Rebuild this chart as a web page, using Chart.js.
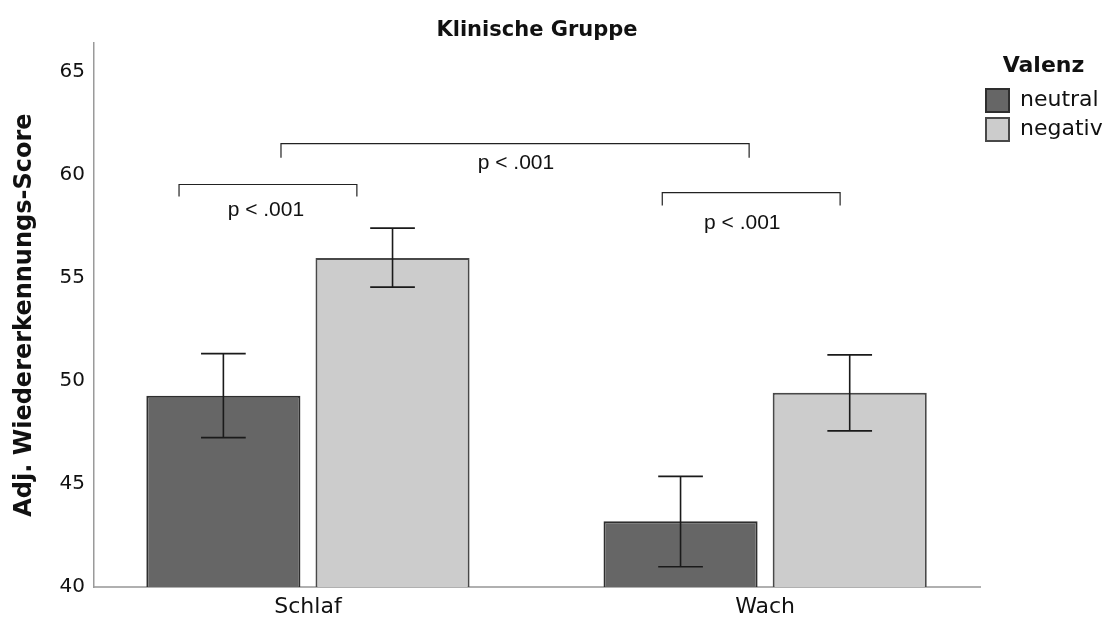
<!DOCTYPE html>
<html>
<head>
<meta charset="utf-8">
<script src="https://cdn.jsdelivr.net/npm/chart.js@4/dist/chart.umd.min.js"></script>
<style>
  html, body { margin: 0; padding: 0; background: #ffffff; }
  #wrap { width: 1107px; height: 625px; }
</style>
</head>
<body>
<div id="wrap"><canvas id="c" width="1107" height="625"></canvas></div>
<script>
// Groups on the x axis
const categories = ['Schlaf', 'Wach'];

// Mean adjusted recognition score per group, with error-bar limits
const neutralMeans = [49.28, 43.19];
const neutralLow   = [47.25, 40.98];
const neutralHigh  = [51.33, 45.37];

const negativMeans = [55.97, 49.43];
const negativLow   = [54.56, 47.58];
const negativHigh  = [57.42, 51.27];

const yTicks = [40, 45, 50, 55, 60, 65];

// Significance brackets, in axis units: x from/to, y of the bar, y of the leg ends, label position
const bracketFrom  = [-0.282, -0.059, 0.775];
const bracketTo    = [ 0.107,  0.965, 1.164];
const bracketTop   = [ 59.54,  61.52, 59.15];
const bracketLegs  = [ 58.96,  60.84, 58.52];
const bracketTextX = [-0.092,  0.455, 0.950];
const bracketTextY = [ 58.30,  60.55, 57.68];
const bracketText  = ['p < .001', 'p < .001', 'p < .001'];

const FONT = "'DejaVu Sans', sans-serif";

const errorLimits = [
  { low: neutralLow, high: neutralHigh },
  { low: negativLow, high: negativHigh }
];

const errorBars = {
  id: 'errorBars',
  afterDatasetsDraw(chart) {
    const { ctx, scales: { y } } = chart;
    ctx.save();
    ctx.strokeStyle = '#1a1a1a';
    ctx.lineWidth = 1.6;
    errorLimits.forEach((lim, di) => {
      const meta = chart.getDatasetMeta(di);
      meta.data.forEach((bar, i) => {
        const x = bar.x;
        const half = bar.width * 0.145;
        const yHi = y.getPixelForValue(lim.high[i]);
        const yLo = y.getPixelForValue(lim.low[i]);
        ctx.beginPath();
        ctx.moveTo(x, yHi); ctx.lineTo(x, yLo);
        ctx.moveTo(x - half, yHi); ctx.lineTo(x + half, yHi);
        ctx.moveTo(x - half, yLo); ctx.lineTo(x + half, yLo);
        ctx.stroke();
      });
    });
    ctx.restore();
  }
};

const brackets = {
  id: 'brackets',
  afterDatasetsDraw(chart) {
    const { ctx, scales: { x, y } } = chart;
    ctx.save();
    ctx.strokeStyle = '#222222';
    ctx.lineWidth = 1.2;
    ctx.fillStyle = '#111111';
    ctx.font = "21px 'Liberation Sans', Arial, sans-serif";
    ctx.textAlign = 'center';
    ctx.textBaseline = 'middle';
    bracketFrom.forEach((from, i) => {
      const x0 = x.getPixelForValue(from);
      const x1 = x.getPixelForValue(bracketTo[i]);
      const yt = y.getPixelForValue(bracketTop[i]);
      const yl = y.getPixelForValue(bracketLegs[i]);
      ctx.beginPath();
      ctx.moveTo(x0, yl); ctx.lineTo(x0, yt); ctx.lineTo(x1, yt); ctx.lineTo(x1, yl);
      ctx.stroke();
      ctx.fillText(bracketText[i], x.getPixelForValue(bracketTextX[i]), y.getPixelForValue(bracketTextY[i]));
    });
    ctx.restore();
  }
};

new Chart(document.getElementById('c'), {
  type: 'bar',
  data: {
    datasets: [
      {
        label: 'neutral',
        data: neutralMeans.map((v, i) => ({ x: i, y: v })),
        backgroundColor: '#666666',
        borderColor: '#2e2e2e',
        borderWidth: 2
      },
      {
        label: 'negativ',
        data: negativMeans.map((v, i) => ({ x: i, y: v })),
        backgroundColor: '#cccccc',
        borderColor: '#484848',
        borderWidth: 2
      }
    ]
  },
  options: {
    responsive: false,
    animation: false,
    devicePixelRatio: 1,
    categoryPercentage: 0.74,
    barPercentage: 0.911,
    layout: { padding: { left: 0, right: 0, top: 0, bottom: 0 } },
    plugins: {
      title: {
        display: true,
        text: 'Klinische Gruppe',
        fullSize: false,
        color: '#111111',
        font: { family: FONT, size: 21, weight: 'bold' },
        padding: { top: 18, bottom: 0 }
      },
      legend: {
        position: 'right',
        align: 'start',
        maxWidth: 127,
        title: {
          display: true,
          text: 'Valenz',
          color: '#111111',
          font: { family: FONT, size: 22, weight: 'bold' },
          padding: { top: 55, bottom: 1.6 }
        },
        labels: {
          boxWidth: 23,
          boxHeight: 23,
          padding: 6,
          color: '#111111',
          font: { family: FONT, size: 22 }
        }
      },
      tooltip: { enabled: false }
    },
    scales: {
      x: {
        type: 'linear',
        offset: false,
        min: -0.468,
        max: 1.470,
        grid: { display: false, drawTicks: false, offset: false },
        border: { display: true, color: '#b0b0b0', width: 2 },
        afterBuildTicks(axis) { axis.ticks = categories.map((_, i) => ({ value: i })); },
        afterFit(axis) { axis.height = 38; },
        ticks: {
          autoSkip: false,
          maxRotation: 0,
          padding: 7,
          color: '#111111',
          font: { family: FONT, size: 22 },
          callback: (v) => categories[v]
        }
      },
      y: {
        min: 40,
        max: 66.4,
        grid: { display: false, drawTicks: false },
        border: { display: true, color: '#9a9a9a', width: 1.5 },
        afterBuildTicks(axis) { axis.ticks = yTicks.map(v => ({ value: v })); },
        afterFit(axis) { axis.width = 94; },
        title: {
          display: true,
          text: 'Adj. Wiedererkennungs-Score',
          color: '#111111',
          font: { family: FONT, size: 24, weight: 'bold' },
          padding: { top: 10, bottom: 0 }
        },
        ticks: {
          padding: 9,
          color: '#111111',
          font: { family: FONT, size: 20 }
        }
      }
    }
  },
  plugins: [errorBars, brackets]
});
</script>
</body>
</html>
